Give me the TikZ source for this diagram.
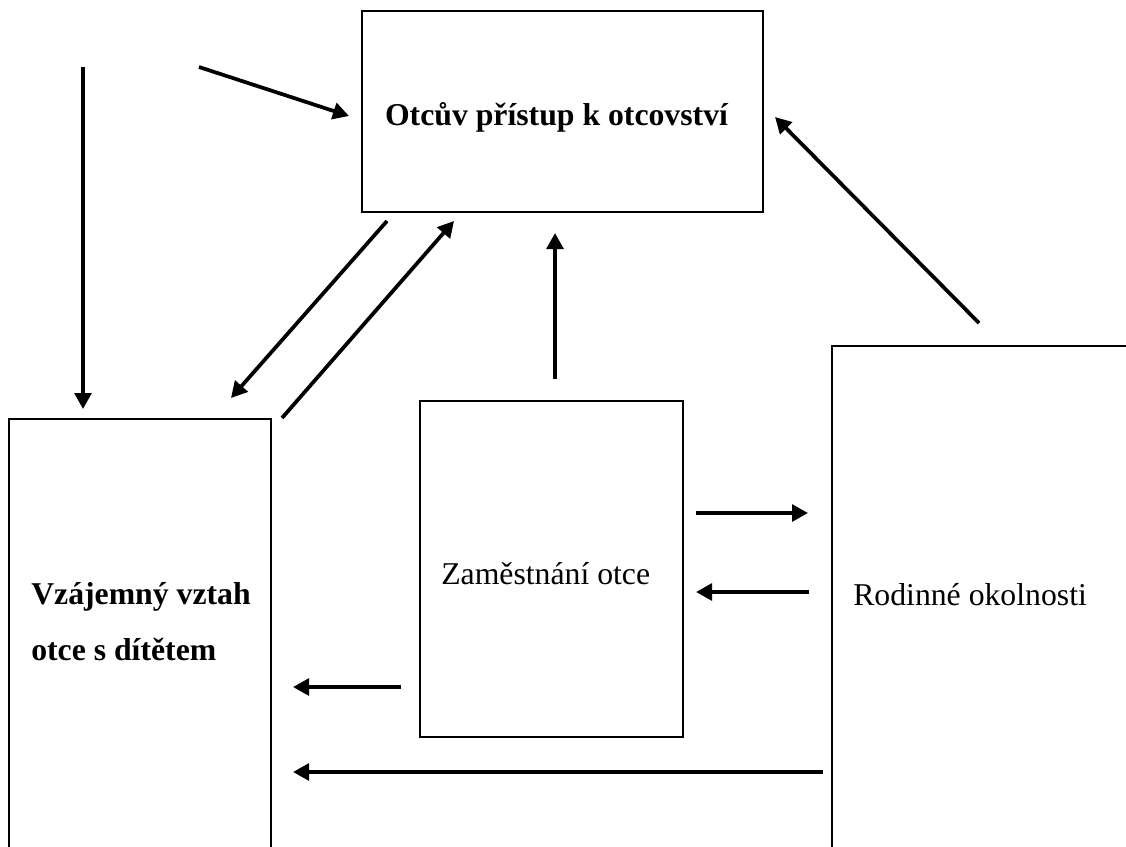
\documentclass[tikz,border=0pt]{standalone}
\usepackage{fontspec}
\setmainfont{Liberation Serif}
\usetikzlibrary{arrows.meta,fit}
\tikzset{
  box/.style={draw, line width=1.3pt, inner sep=0pt, rectangle},
  conn/.style={line width=2.8pt, -{Triangle[length=12pt,width=12.5pt]}},
  lbl/.style={inner sep=0pt, font=\fontsize{23.8}{28}\selectfont},
  blbl/.style={inner sep=0pt, font=\fontsize{23.8}{28}\selectfont\bfseries}
}
\begin{document}
\begin{tikzpicture}[x=0.75pt,y=-0.75pt]
\clip (0,0) rectangle (1126,846);
\fill[white] (0,0) rectangle (1126,846);
% box corners
\coordinate (t1) at (362,11);  \coordinate (t2) at (763,212);
\coordinate (l1) at (9,419);   \coordinate (l2) at (271,900);
\coordinate (m1) at (420,401); \coordinate (m2) at (683,737);
\coordinate (r1) at (832,346); \coordinate (r2) at (1200,900);
\node[box, fit=(t1)(t2)] (top) {};
\node[box, fit=(l1)(l2)] (left) {};
\node[box, fit=(m1)(m2)] (mid) {};
\node[box, fit=(r1)(r2)] (right) {};
% texts
\node[blbl, anchor=base] (ttop) at (556.5,125) {Otcův přístup k otcovství};
\node[blbl, anchor=base west] (tleft1) at (31,604) {Vzájemný vztah};
\node[blbl, anchor=base west] (tleft2) at (31,660) {otce s dítětem};
\node[lbl, anchor=base west] (tmid) at (441,584) {Zaměstnání otce};
\node[lbl, anchor=base west] (tright) at (853,605) {Rodinné okolnosti};
% connector endpoints
\coordinate (a1s) at (83,67);   \coordinate (a1e) at (83,409);
\coordinate (a2s) at (199,67);  \coordinate (a2e) at (349,116);
\coordinate (a3s) at (387,221); \coordinate (a3e) at (231,398);
\coordinate (a4s) at (282,418); \coordinate (a4e) at (454,221);
\coordinate (a5s) at (555,379); \coordinate (a5e) at (555,233);
\coordinate (a6s) at (979,323); \coordinate (a6e) at (775,117);
\coordinate (a7s) at (696,513); \coordinate (a7e) at (808,513);
\coordinate (a8s) at (809,592); \coordinate (a8e) at (696,592);
\coordinate (a9s) at (401,687); \coordinate (a9e) at (293,687);
\coordinate (a10s) at (823,772); \coordinate (a10e) at (293,772);
\draw[conn] (a1s) -- (a1e);
\draw[conn] (a2s) -- (a2e);
\draw[conn] (a3s) -- (a3e);
\draw[conn] (a4s) -- (a4e);
\draw[conn] (a5s) -- (a5e);
\draw[conn] (a6s) -- (a6e);
\draw[conn] (a7s) -- (a7e);
\draw[conn] (a8s) -- (a8e);
\draw[conn] (a9s) -- (a9e);
\draw[conn] (a10s) -- (a10e);
\end{tikzpicture}
\end{document}
